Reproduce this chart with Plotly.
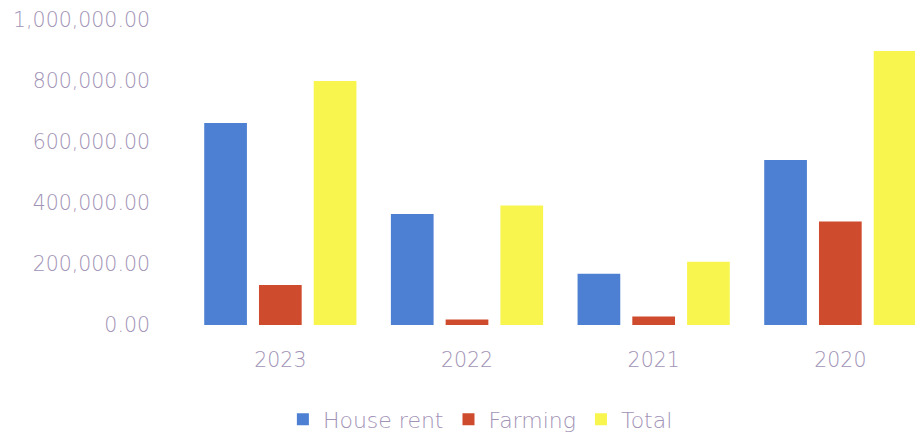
import plotly.graph_objects as go

years = ["2023", "2022", "2021", "2020"]
house_rent = [662000, 364000, 168000, 541000]
farming = [131000, 18000, 28000, 339000]
total = [800000, 392000, 207000, 898000]
y_ticks = [0, 200000, 400000, 600000, 800000, 1000000]
y_tick_text = ["0.00", "200,000.00", "400,000.00", "600,000.00", "800,000.00", "1,000,000.00"]

text_color = "#a293b6"
font_family = "DejaVu Sans"

fig = go.Figure()
fig.add_trace(go.Bar(name="House rent", x=years, y=house_rent, marker_color="#4d80d2", marker_line_width=0))
fig.add_trace(go.Bar(name="Farming", x=years, y=farming, marker_color="#cf4b2d", marker_line_width=0))
fig.add_trace(go.Bar(name="Total", x=years, y=total, marker_color="#f8f64e", marker_line_width=0))

fig.update_layout(
    width=915, height=435,
    margin=dict(l=187, r=0, t=20, b=110, autoexpand=False),
    paper_bgcolor="white", plot_bgcolor="white",
    barmode="group", bargap=0.12, bargroupgap=0.22,
    font=dict(family=font_family, size=20.5, color=text_color, weight=300),
    showlegend=True,
    legend=dict(orientation="h", x=0.403, xanchor="center", y=-0.31, yanchor="middle",
                font=dict(size=22, color=text_color, weight=300), itemwidth=30, traceorder="normal"),
)
fig.update_xaxes(range=[-0.5, 3.4], showgrid=False, showline=False, zeroline=False,
                 ticks="", ticklabelstandoff=20, tickfont=dict(size=20.5, color=text_color, weight=300))
fig.update_yaxes(range=[0, 1000000], tickvals=y_ticks, ticktext=y_tick_text,
                 showgrid=False, showline=False, zeroline=False, ticks="",
                 ticklabelstandoff=36, tickfont=dict(size=20.5, color=text_color, weight=300))

fig.write_html("out.html")
